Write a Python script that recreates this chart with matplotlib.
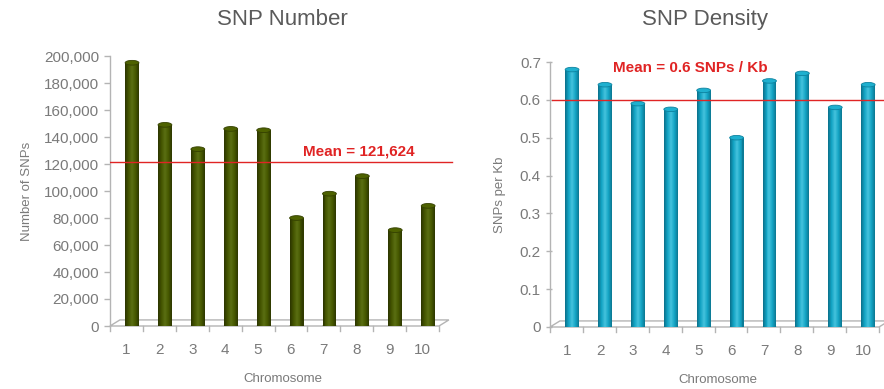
import numpy as np
import matplotlib
matplotlib.use("Agg")
import matplotlib.pyplot as plt
from matplotlib.patches import Ellipse, Polygon
from matplotlib.colors import LinearSegmentedColormap

plt.rcParams['font.family'] = ['Liberation Sans', 'DejaVu Sans']

# chromosome data
chromosomes = [1, 2, 3, 4, 5, 6, 7, 8, 9, 10]
snp_number = [195000, 149000, 131000, 146000, 145000, 80000, 98000, 111000, 71000, 89000]
snp_density = [0.68, 0.64, 0.59, 0.575, 0.625, 0.50, 0.65, 0.67, 0.58, 0.64]
mean_number = 121624
mean_density = 0.6

number_ticks = np.arange(0, 200001, 20000)
density_ticks = np.arange(0, 0.71, 0.1)

grey = '#7a7a7a'
axis_grey = '#b4b4b4'
red = '#e02424'

olive = LinearSegmentedColormap.from_list('olive', ['#2a3300', '#435400', '#5a6e12', '#465800', '#2c3600'])
teal = LinearSegmentedColormap.from_list('teal', ['#0a6e88', '#12a2c2', '#44c2dd', '#14a4c4', '#0b7690'])


def cylinder_bars(ax, xs, vals, cmap, width, cap_h, top_col):
    # draw each bar as thin vertical strips to fake a shaded cylinder
    n = 14
    for x, v in zip(xs, vals):
        for k in range(n):
            left = x - width / 2 + k * width / n
            ax.bar(left, v, width=width / n * 1.05, align='edge',
                   color=cmap((k + 0.5) / n), linewidth=0, zorder=3)
        ax.add_patch(Ellipse((x, v), width, cap_h, facecolor=top_col,
                             edgecolor=cmap(0.1), linewidth=0.6, zorder=4))
        ax.add_patch(Ellipse((x, 0), width, cap_h, facecolor=cmap(0.5),
                             linewidth=0, zorder=2))


def frame(ax, x0, x1, ymax, dx, dy):
    # front edge, floor and y axis of the 3d box
    ax.plot([x0, x0], [0, ymax], color=axis_grey, lw=1, zorder=1, clip_on=False)
    floor = Polygon([[x0, 0], [x1, 0], [x1 + dx, dy], [x0 + dx, dy]], closed=True,
                    facecolor='none', edgecolor=axis_grey, lw=1, zorder=1, clip_on=False)
    ax.add_patch(floor)
    for i in range(11):
        ax.plot([x0 + i, x0 + i], [0, -ymax * 0.02], color=axis_grey, lw=1, clip_on=False)


fig = plt.figure(figsize=(8.84, 3.89), dpi=100)

# left panel: SNP number
ax1 = fig.add_axes([110 / 884, 63 / 389, 345 / 884, 270 / 389])
x0 = 0.33
ax1.set_xlim(x0, x0 + 345 / 32.9)
ax1.set_ylim(0, 200000)
frame(ax1, x0, x0 + 10, 200000, 0.3, 4500)
cylinder_bars(ax1, chromosomes, snp_number, olive, 0.42, 3500, '#4e6200')
ax1.axhline(mean_number, color=red, lw=1, xmin=0, xmax=0.99, zorder=5)
ax1.text(6.2, mean_number + 2500, 'Mean = 121,624', color=red, fontsize=11,
         fontweight='bold', ha='left', va='bottom')
ax1.set_yticks(number_ticks)
ax1.set_yticklabels([f'{t:,}' for t in number_ticks])
ax1.set_xticks(np.array(chromosomes) - 0.17)
ax1.set_xticklabels(chromosomes)
ax1.set_ylabel('Number of SNPs', color=grey, fontsize=9.5, labelpad=8)
ax1.set_xlabel('Chromosome', color=grey, fontsize=9.5, labelpad=12)
ax1.set_title('SNP Number', color='#5a5a5a', fontsize=16, pad=22)

# right panel: SNP density
ax2 = fig.add_axes([552 / 884, 62 / 389, 332 / 884, 265 / 389])
x0 = 0.39
ax2.set_xlim(x0, x0 + 332 / 32.9)
ax2.set_ylim(0, 0.7)
frame(ax2, x0 - 0.06, x0 + 9.94, 0.7, 0.3, 0.016)
cylinder_bars(ax2, chromosomes, snp_density, teal, 0.42, 0.012, '#1fb0cf')
ax2.axhline(mean_density, color=red, lw=1, zorder=5)
ax2.text(2.24, 0.685, 'Mean = 0.6 SNPs / Kb', color=red, fontsize=11,
         fontweight='bold', ha='left', va='center')
ax2.set_yticks(density_ticks)
ax2.set_yticklabels(['0' if t == 0 else f'{t:.1f}' for t in density_ticks])
ax2.set_xticks(np.array(chromosomes) - 0.15)
ax2.set_xticklabels(chromosomes)
ax2.set_ylabel('SNPs per Kb', color=grey, fontsize=9.5, labelpad=10)
ax2.set_xlabel('Chromosome', color=grey, fontsize=9.5, labelpad=12)
ax2.set_title('SNP Density', color='#5a5a5a', fontsize=16, pad=27, x=0.46)

for ax in (ax1, ax2):
    for s in ax.spines.values():
        s.set_visible(False)
    ax.tick_params(axis='y', colors=axis_grey, labelcolor=grey, labelsize=11,
                   length=4, width=1, pad=4)
    ax.tick_params(axis='x', length=0, labelcolor=grey, labelsize=11, pad=12)
    ax.patch.set_alpha(0)

fig.savefig('out.png', dpi=100)
